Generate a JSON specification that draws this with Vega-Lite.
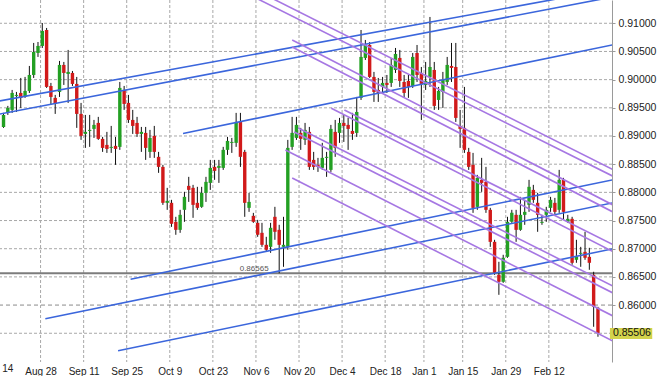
{
"$schema": "https://vega.github.io/schema/vega-lite/v6.json",
"width": 612, "height": 362,
"autosize": {"type": "none"},
"padding": {"left": 0, "top": 0, "right": 48, "bottom": 14},
"background": "white",
"config": {
"view": {"stroke": null},
"font": "Liberation Sans",
"axis": {"grid": false, "labelFont": "Liberation Sans", "labelColor": "#222", "labelOverlap": false, "labelFlush": false, "title": null},
"axisX": {"domain": false, "ticks": false, "labelFontSize": 10, "labelPadding": 4},
"axisY": {"domain": true, "domainColor": "#9a9a9a", "ticks": true, "tickColor": "#9a9a9a", "tickSize": 3, "labelPadding": 3, "labelFontSize": 10.5}
},
"datasets": {
"candles": [
{"k":0,"o":0.89161,"h":0.89410,"l":0.89144,"c":0.89374},
{"k":1,"o":0.89410,"h":0.89534,"l":0.89374,"c":0.89498},
{"k":2,"o":0.89463,"h":0.89817,"l":0.89410,"c":0.89764},
{"k":3,"o":0.89711,"h":0.89782,"l":0.89427,"c":0.89729},
{"k":4,"o":0.89764,"h":0.90030,"l":0.89498,"c":0.89676},
{"k":5,"o":0.89693,"h":0.90048,"l":0.89676,"c":0.89800},
{"k":6,"o":0.89800,"h":0.90243,"l":0.89764,"c":0.90083},
{"k":7,"o":0.90083,"h":0.90651,"l":0.90030,"c":0.90491},
{"k":8,"o":0.90473,"h":0.90668,"l":0.90403,"c":0.90598},
{"k":9,"o":0.90598,"h":0.91005,"l":0.90562,"c":0.90864},
{"k":10,"o":0.90881,"h":0.90917,"l":0.89853,"c":0.89871},
{"k":11,"o":0.89888,"h":0.89942,"l":0.89551,"c":0.89693},
{"k":12,"o":0.89676,"h":0.89729,"l":0.89392,"c":0.89569},
{"k":13,"o":0.89782,"h":0.90332,"l":0.89693,"c":0.90261},
{"k":14,"o":0.90261,"h":0.90314,"l":0.89906,"c":0.90119},
{"k":15,"o":0.90101,"h":0.90527,"l":0.89587,"c":0.90137},
{"k":16,"o":0.90119,"h":0.90154,"l":0.89888,"c":0.89924},
{"k":17,"o":0.89924,"h":0.90048,"l":0.89144,"c":0.89392},
{"k":18,"o":0.89392,"h":0.89587,"l":0.88931,"c":0.89002},
{"k":19,"o":0.89037,"h":0.89374,"l":0.88789,"c":0.89073},
{"k":20,"o":0.89090,"h":0.89374,"l":0.88807,"c":0.89108},
{"k":21,"o":0.89126,"h":0.89285,"l":0.88966,"c":0.89197},
{"k":22,"o":0.89232,"h":0.89339,"l":0.88931,"c":0.88949},
{"k":23,"o":0.88949,"h":0.88984,"l":0.88718,"c":0.88789},
{"k":24,"o":0.88842,"h":0.89073,"l":0.88700,"c":0.88771},
{"k":25,"o":0.88789,"h":0.89179,"l":0.88700,"c":0.88807},
{"k":26,"o":0.88825,"h":0.88984,"l":0.88488,"c":0.88771},
{"k":27,"o":0.88807,"h":0.89959,"l":0.88754,"c":0.89853},
{"k":28,"o":0.89817,"h":0.89888,"l":0.89463,"c":0.89569},
{"k":29,"o":0.89587,"h":0.89729,"l":0.89232,"c":0.89285},
{"k":30,"o":0.89285,"h":0.89463,"l":0.89037,"c":0.89179},
{"k":31,"o":0.89232,"h":0.89339,"l":0.88984,"c":0.89037},
{"k":32,"o":0.89037,"h":0.89161,"l":0.88718,"c":0.89073},
{"k":33,"o":0.89055,"h":0.89161,"l":0.88576,"c":0.88789},
{"k":34,"o":0.88718,"h":0.89108,"l":0.88612,"c":0.88966},
{"k":35,"o":0.89002,"h":0.89179,"l":0.88612,"c":0.88718},
{"k":36,"o":0.88630,"h":0.88718,"l":0.88346,"c":0.88452},
{"k":37,"o":0.88452,"h":0.88488,"l":0.87778,"c":0.87814},
{"k":38,"o":0.87814,"h":0.88080,"l":0.87690,"c":0.87849},
{"k":39,"o":0.87814,"h":0.87867,"l":0.87388,"c":0.87442},
{"k":40,"o":0.87477,"h":0.87566,"l":0.87247,"c":0.87335},
{"k":41,"o":0.87335,"h":0.87690,"l":0.87282,"c":0.87601},
{"k":42,"o":0.87690,"h":0.88009,"l":0.87477,"c":0.87920},
{"k":43,"o":0.88115,"h":0.88275,"l":0.87831,"c":0.88044},
{"k":44,"o":0.88080,"h":0.88133,"l":0.87548,"c":0.87778},
{"k":45,"o":0.87814,"h":0.88098,"l":0.87690,"c":0.87725},
{"k":46,"o":0.87743,"h":0.88098,"l":0.87725,"c":0.87991},
{"k":47,"o":0.87991,"h":0.88275,"l":0.87831,"c":0.88186},
{"k":48,"o":0.88168,"h":0.88576,"l":0.88044,"c":0.88434},
{"k":49,"o":0.88452,"h":0.88576,"l":0.88222,"c":0.88381},
{"k":50,"o":0.88434,"h":0.88576,"l":0.88168,"c":0.88470},
{"k":51,"o":0.88434,"h":0.88807,"l":0.88399,"c":0.88754},
{"k":52,"o":0.88754,"h":0.88984,"l":0.88665,"c":0.88913},
{"k":53,"o":0.88878,"h":0.88966,"l":0.88700,"c":0.88895},
{"k":54,"o":0.88878,"h":0.89410,"l":0.88807,"c":0.89250},
{"k":55,"o":0.89250,"h":0.89410,"l":0.88452,"c":0.88630},
{"k":56,"o":0.88718,"h":0.88754,"l":0.87566,"c":0.87814},
{"k":57,"o":0.87725,"h":0.87991,"l":0.87654,"c":0.87831},
{"k":58,"o":0.87583,"h":0.87636,"l":0.87459,"c":0.87477},
{"k":59,"o":0.87459,"h":0.87512,"l":0.87211,"c":0.87247},
{"k":60,"o":0.87282,"h":0.87459,"l":0.87033,"c":0.87069},
{"k":61,"o":0.87069,"h":0.87211,"l":0.86945,"c":0.86981},
{"k":62,"o":0.87033,"h":0.87459,"l":0.86927,"c":0.87371},
{"k":63,"o":0.87566,"h":0.87743,"l":0.87158,"c":0.87300},
{"k":64,"o":0.87335,"h":0.87424,"l":0.86565,"c":0.87069},
{"k":65,"o":0.87033,"h":0.87566,"l":0.86679,"c":0.87069},
{"k":66,"o":0.87033,"h":0.88931,"l":0.86981,"c":0.88789},
{"k":67,"o":0.88807,"h":0.89339,"l":0.88754,"c":0.89055},
{"k":68,"o":0.88966,"h":0.89339,"l":0.88931,"c":0.89197},
{"k":69,"o":0.89055,"h":0.89144,"l":0.88754,"c":0.88949},
{"k":70,"o":0.88931,"h":0.89232,"l":0.88842,"c":0.89108},
{"k":71,"o":0.89073,"h":0.89161,"l":0.88399,"c":0.88452},
{"k":72,"o":0.88576,"h":0.88718,"l":0.88399,"c":0.88452},
{"k":73,"o":0.88488,"h":0.88612,"l":0.88363,"c":0.88452},
{"k":74,"o":0.88434,"h":0.88878,"l":0.88399,"c":0.88612},
{"k":75,"o":0.88612,"h":0.88718,"l":0.88275,"c":0.88630},
{"k":76,"o":0.88399,"h":0.89197,"l":0.88363,"c":0.89126},
{"k":77,"o":0.89073,"h":0.89285,"l":0.88630,"c":0.88789},
{"k":78,"o":0.89055,"h":0.89321,"l":0.88878,"c":0.89232},
{"k":79,"o":0.89232,"h":0.89374,"l":0.88895,"c":0.89179},
{"k":80,"o":0.89197,"h":0.89321,"l":0.88754,"c":0.89126},
{"k":81,"o":0.89090,"h":0.89410,"l":0.88931,"c":0.89037},
{"k":82,"o":0.89055,"h":0.89693,"l":0.88984,"c":0.89427},
{"k":83,"o":0.89676,"h":0.90881,"l":0.89640,"c":0.90403},
{"k":84,"o":0.90385,"h":0.90704,"l":0.90349,"c":0.90615},
{"k":85,"o":0.90615,"h":0.90668,"l":0.90030,"c":0.90048},
{"k":86,"o":0.90048,"h":0.90137,"l":0.89605,"c":0.89782},
{"k":87,"o":0.89817,"h":0.90030,"l":0.89605,"c":0.89764},
{"k":88,"o":0.89871,"h":0.90048,"l":0.89764,"c":0.89942},
{"k":89,"o":0.89942,"h":0.90083,"l":0.89764,"c":0.89906},
{"k":90,"o":0.89942,"h":0.90385,"l":0.89871,"c":0.90261},
{"k":91,"o":0.90172,"h":0.90562,"l":0.90119,"c":0.90456},
{"k":92,"o":0.90385,"h":0.90527,"l":0.89871,"c":0.89977},
{"k":93,"o":0.89959,"h":0.90083,"l":0.89676,"c":0.89764},
{"k":94,"o":0.89977,"h":0.90083,"l":0.89676,"c":0.89871},
{"k":95,"o":0.89888,"h":0.90473,"l":0.89853,"c":0.90403},
{"k":96,"o":0.90473,"h":0.90615,"l":0.89959,"c":0.90083},
{"k":97,"o":0.90119,"h":0.90225,"l":0.89285,"c":0.89924},
{"k":98,"o":0.89906,"h":0.90314,"l":0.89817,"c":0.89977},
{"k":99,"o":0.90048,"h":0.91112,"l":0.89871,"c":0.90225},
{"k":100,"o":0.90172,"h":0.90314,"l":0.89463,"c":0.89534},
{"k":101,"o":0.89640,"h":0.89871,"l":0.89463,"c":0.89800},
{"k":102,"o":0.89782,"h":0.90137,"l":0.89498,"c":0.89995},
{"k":103,"o":0.89959,"h":0.90403,"l":0.89906,"c":0.90261},
{"k":104,"o":0.90243,"h":0.90651,"l":0.89959,"c":0.90208},
{"k":105,"o":0.90225,"h":0.90651,"l":0.89250,"c":0.89321},
{"k":106,"o":0.89179,"h":0.89463,"l":0.88789,"c":0.89126},
{"k":107,"o":0.89144,"h":0.89871,"l":0.88700,"c":0.88754},
{"k":108,"o":0.88718,"h":0.88789,"l":0.88399,"c":0.88452},
{"k":109,"o":0.88488,"h":0.88700,"l":0.87636,"c":0.87725},
{"k":110,"o":0.87743,"h":0.88310,"l":0.87690,"c":0.88257},
{"k":111,"o":0.88222,"h":0.88612,"l":0.88009,"c":0.88168},
{"k":112,"o":0.88186,"h":0.88452,"l":0.87636,"c":0.87690},
{"k":113,"o":0.87690,"h":0.87725,"l":0.87033,"c":0.87122},
{"k":114,"o":0.87122,"h":0.87158,"l":0.86537,"c":0.86573},
{"k":115,"o":0.86537,"h":0.86768,"l":0.86182,"c":0.86413},
{"k":116,"o":0.86413,"h":0.86892,"l":0.86395,"c":0.86839},
{"k":117,"o":0.86856,"h":0.87566,"l":0.86839,"c":0.87477},
{"k":118,"o":0.87477,"h":0.87690,"l":0.87459,"c":0.87636},
{"k":119,"o":0.87601,"h":0.87690,"l":0.87122,"c":0.87335},
{"k":120,"o":0.87335,"h":0.87920,"l":0.87318,"c":0.87601},
{"k":121,"o":0.87601,"h":0.87867,"l":0.87424,"c":0.87654},
{"k":122,"o":0.87778,"h":0.88222,"l":0.87654,"c":0.88098},
{"k":123,"o":0.88044,"h":0.88133,"l":0.87814,"c":0.87867},
{"k":124,"o":0.87814,"h":0.87991,"l":0.87300,"c":0.87601},
{"k":125,"o":0.87459,"h":0.87601,"l":0.87424,"c":0.87477},
{"k":126,"o":0.87601,"h":0.87743,"l":0.87477,"c":0.87690},
{"k":127,"o":0.87725,"h":0.87920,"l":0.87654,"c":0.87867},
{"k":128,"o":0.87814,"h":0.87902,"l":0.87601,"c":0.87654},
{"k":129,"o":0.87690,"h":0.88399,"l":0.87636,"c":0.88222},
{"k":130,"o":0.88222,"h":0.88257,"l":0.87512,"c":0.87654},
{"k":131,"o":0.87477,"h":0.87601,"l":0.87459,"c":0.87530},
{"k":132,"o":0.87530,"h":0.87566,"l":0.86715,"c":0.86750},
{"k":133,"o":0.86803,"h":0.87158,"l":0.86750,"c":0.86856},
{"k":134,"o":0.86910,"h":0.87033,"l":0.86679,"c":0.86927},
{"k":135,"o":0.86945,"h":0.87300,"l":0.86803,"c":0.86839},
{"k":136,"o":0.86856,"h":0.87016,"l":0.86626,"c":0.86750},
{"k":137,"o":0.86537,"h":0.86591,"l":0.85615,"c":0.85969},
{"k":138,"o":0.85952,"h":0.85969,"l":0.85438,"c":0.85506}
],
"blue": [
{"id":"L1","k":-1.94,"p":0.89607},{"id":"L1","k":141.93,"p":0.91621},
{"id":"L2","k":-1.94,"p":0.89375},{"id":"L2","k":141.93,"p":0.91474},
{"id":"L3","k":41.68,"p":0.89045},{"id":"L3","k":141.93,"p":0.90626},
{"id":"L4","k":29.50,"p":0.86458},{"id":"L4","k":141.93,"p":0.88230},
{"id":"L5","k":9.71,"p":0.85759},{"id":"L5","k":141.93,"p":0.87822},
{"id":"L6","k":26.60,"p":0.85191},{"id":"L6","k":141.93,"p":0.87006}
],
"purple": [
{"id":"PA","k":58.57,"p":0.91449},{"id":"PA","k":141.93,"p":0.88269},
{"id":"PB","k":60.86,"p":0.91500},{"id":"PB","k":141.93,"p":0.88385},
{"id":"PC","k":67.02,"p":0.90704},{"id":"PC","k":141.93,"p":0.87758},
{"id":"PD","k":67.02,"p":0.90580},{"id":"PD","k":141.93,"p":0.87634},
{"id":"PE","k":79.13,"p":0.89462},{"id":"PE","k":141.93,"p":0.87056},
{"id":"PF","k":76.09,"p":0.89492},{"id":"PF","k":141.93,"p":0.86933},
{"id":"PH","k":68.39,"p":0.89142},{"id":"PH","k":141.93,"p":0.86321},
{"id":"PI","k":67.48,"p":0.89071},{"id":"PI","k":141.93,"p":0.86197},
{"id":"PJ","k":65.43,"p":0.88752},{"id":"PJ","k":141.93,"p":0.85789},
{"id":"PK","k":67.02,"p":0.88255},{"id":"PK","k":141.93,"p":0.85345}
],
"levels": [
{"p":0.86565,"label":"0.86565","k":61.54}
],
"ygrid": [
{"p":0.855},{"p":0.865},{"p":0.87},{"p":0.875},{"p":0.88},{"p":0.885},{"p":0.89},{"p":0.895},{"p":0.9},{"p":0.905},{"p":0.91}
],
"xgrid": [
{"g":8.6},{"g":18.6},{"g":28.6},{"g":38.6},{"g":48.6},{"g":58.6},{"g":68.6},{"g":78.6},{"g":88.6},{"g":97.6},{"g":106.6},{"g":116.6},{"g":126.6}
]
},
"layer": [
{
"data": {"name": "xgrid"},
"mark": {"type": "rule", "color": "#a8a8a8", "strokeWidth": 1, "strokeDash": [3, 2]},
"encoding": {
"x": {"field": "g", "type": "quantitative", "title": null,
"scale": {"domain": [0.3425, 140.1], "nice": false, "zero": false},
"axis": {"values": [8.6, 18.6, 28.6, 38.6, 48.6, 58.6, 68.6, 78.6, 88.6, 97.6, 106.6, 116.6, 126.6],
"labelExpr": "datum.value < 10 ? 'Aug 28' : datum.value < 20 ? 'Sep 11' : datum.value < 30 ? 'Sep 25' : datum.value < 40 ? 'Oct 9' : datum.value < 50 ? 'Oct 23' : datum.value < 60 ? 'Nov 6' : datum.value < 70 ? 'Nov 20' : datum.value < 80 ? 'Dec 4' : datum.value < 90 ? 'Dec 18' : datum.value < 100 ? 'Jan 1' : datum.value < 110 ? 'Jan 15' : datum.value < 120 ? 'Jan 29' : 'Feb 12'"}}
}
},
{
"data": {"name": "ygrid"},
"mark": {"type": "rule", "color": "#a8a8a8", "strokeWidth": 1, "strokeDash": [3, 2]},
"encoding": {"y": {"field": "p", "type": "quantitative", "title": null,
"scale": {"domain": [0.8499, 0.91413], "nice": false, "zero": false},
"axis": {"orient": "right", "values": [0.86, 0.865, 0.87, 0.875, 0.88, 0.885, 0.89, 0.895, 0.9, 0.905, 0.91], "format": ".5f"}}}
},
{
"data": {"values": [{"p": 0.86}]},
"mark": {"type": "rule", "color": "#8a8a8a", "strokeWidth": 1, "strokeDash": [4, 3]},
"encoding": {"y": {"field": "p", "type": "quantitative", "title": null, "axis": {"orient": "right", "values": [0.86, 0.865, 0.87, 0.875, 0.88, 0.885, 0.89, 0.895, 0.9, 0.905, 0.91], "format": ".5f"}}}
},
{
"data": {"name": "levels"},
"mark": {"type": "rule", "color": "#7c7c7c", "strokeWidth": 2},
"encoding": {"y": {"field": "p", "type": "quantitative", "title": null, "axis": {"orient": "right", "values": [0.86, 0.865, 0.87, 0.875, 0.88, 0.885, 0.89, 0.895, 0.9, 0.905, 0.91], "format": ".5f"}}}
},
{
"data": {"name": "candles"},
"mark": {"type": "rule", "color": "#111111", "strokeWidth": 1, "clip": true},
"encoding": {
"x": {"field": "k", "type": "quantitative", "title": null},
"y": {"field": "l", "type": "quantitative", "title": null, "axis": {"orient": "right", "values": [0.86, 0.865, 0.87, 0.875, 0.88, 0.885, 0.89, 0.895, 0.9, 0.905, 0.91], "format": ".5f"}},
"y2": {"field": "h"}
}
},
{
"data": {"name": "candles"},
"mark": {"type": "bar", "width": 3.4, "orient": "vertical", "clip": true},
"encoding": {
"x": {"field": "k", "type": "quantitative", "title": null},
"y": {"field": "o", "type": "quantitative", "title": null, "axis": {"orient": "right", "values": [0.86, 0.865, 0.87, 0.875, 0.88, 0.885, 0.89, 0.895, 0.9, 0.905, 0.91], "format": ".5f"}},
"y2": {"field": "c"},
"color": {"condition": {"test": "datum.c >= datum.o", "value": "#23a023"}, "value": "#d11a1a"}
}
},
{
"data": {"name": "blue"},
"mark": {"type": "line", "color": "#3b66dc", "strokeWidth": 1.6, "clip": true},
"encoding": {
"x": {"field": "k", "type": "quantitative", "title": null},
"y": {"field": "p", "type": "quantitative", "title": null, "axis": {"orient": "right", "values": [0.86, 0.865, 0.87, 0.875, 0.88, 0.885, 0.89, 0.895, 0.9, 0.905, 0.91], "format": ".5f"}},
"detail": {"field": "id"}
}
},
{
"data": {"name": "purple"},
"mark": {"type": "line", "color": "#a677e3", "strokeWidth": 1.6, "clip": true},
"encoding": {
"x": {"field": "k", "type": "quantitative", "title": null},
"y": {"field": "p", "type": "quantitative", "title": null, "axis": {"orient": "right", "values": [0.86, 0.865, 0.87, 0.875, 0.88, 0.885, 0.89, 0.895, 0.9, 0.905, 0.91], "format": ".5f"}},
"detail": {"field": "id"}
}
},
{
"data": {"name": "levels"},
"mark": {"type": "text", "align": "right", "baseline": "alphabetic", "dy": -2, "font": "Liberation Sans", "fontSize": 8, "color": "#555"},
"encoding": {
"x": {"field": "k", "type": "quantitative", "title": null},
"y": {"field": "p", "type": "quantitative", "title": null, "axis": {"orient": "right", "values": [0.86, 0.865, 0.87, 0.875, 0.88, 0.885, 0.89, 0.895, 0.9, 0.905, 0.91], "format": ".5f"}},
"text": {"field": "label"}
}
},
{
"data": {"values": [{"label": "Aug 14"}]},
"mark": {"type": "text", "align": "center", "baseline": "middle", "font": "Liberation Sans", "fontSize": 10, "color": "#222"},
"encoding": {
"x": {"datum": -1.4, "type": "quantitative", "title": null},
"y": {"datum": 0.84857, "type": "quantitative", "title": null, "axis": {"orient": "right", "values": [0.86, 0.865, 0.87, 0.875, 0.88, 0.885, 0.89, 0.895, 0.9, 0.905, 0.91], "format": ".5f"}},
"text": {"field": "label"}
}
},
{
"data": {"values": [{"label": "0.85506"}]},
"mark": {"type": "rect", "color": "#d3d34c"},
"encoding": {
"x": {"datum": 140.78, "type": "quantitative", "title": null},
"x2": {"datum": 150.6},
"y": {"datum": 0.85594, "type": "quantitative", "title": null, "axis": {"orient": "right", "values": [0.86, 0.865, 0.87, 0.875, 0.88, 0.885, 0.89, 0.895, 0.9, 0.905, 0.91], "format": ".5f"}},
"y2": {"datum": 0.85398}
}
},
{
"data": {"values": [{"label": "0.85506"}]},
"mark": {"type": "text", "align": "left", "baseline": "middle", "font": "Liberation Sans", "fontSize": 10.5, "color": "#111"},
"encoding": {
"x": {"datum": 141.47, "type": "quantitative", "title": null},
"y": {"datum": 0.85506, "type": "quantitative", "title": null, "axis": {"orient": "right", "values": [0.86, 0.865, 0.87, 0.875, 0.88, 0.885, 0.89, 0.895, 0.9, 0.905, 0.91], "format": ".5f"}},
"text": {"field": "label"}
}
}
]
}
